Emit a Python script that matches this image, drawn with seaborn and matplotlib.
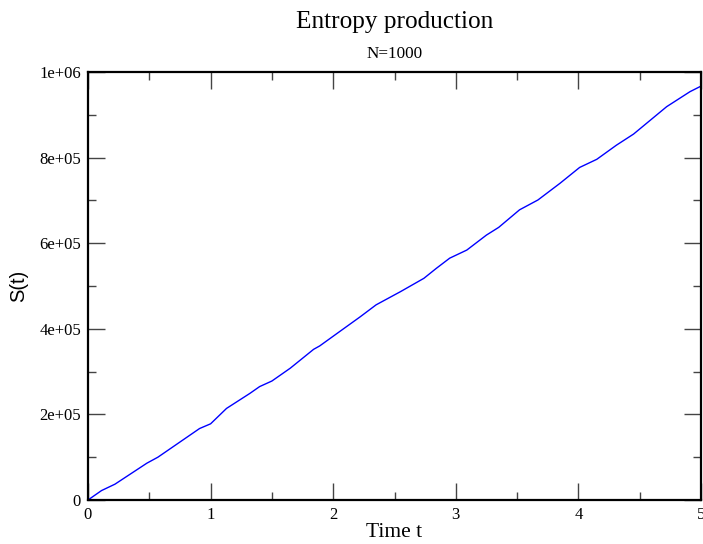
import matplotlib
matplotlib.use("Agg")
import matplotlib.pyplot as plt
import seaborn as sns
import pandas as pd
from matplotlib.ticker import FixedLocator, MultipleLocator, FixedFormatter

# Entropy S(t) sampled along time t
time_t = [0.0, 0.11, 0.22, 0.48, 0.57, 0.91, 1.00, 1.13, 1.32, 1.40, 1.50, 1.65,
          1.84, 1.89, 2.05, 2.22, 2.35, 2.55, 2.74, 2.84, 2.95, 3.09, 3.25, 3.35,
          3.52, 3.67, 3.85, 4.01, 4.15, 4.31, 4.45, 4.72, 4.91, 5.00]
entropy = [0, 22e3, 37e3, 86e3, 100e3, 167e3, 178e3, 214e3, 249e3, 265e3, 278e3, 308e3,
           352e3, 360e3, 393e3, 428e3, 456e3, 487e3, 518e3, 541e3, 565e3, 584e3, 619e3, 637e3,
           678e3, 701e3, 740e3, 777e3, 796e3, 829e3, 855e3, 919e3, 954e3, 967e3]

x_ticks = [0, 1, 2, 3, 4, 5]
x_labels = ["0", "1", "2", "3", "4", "5"]
y_ticks = [0, 2e5, 4e5, 6e5, 8e5, 1e6]
y_labels = ["0", "2e+05", "4e+05", "6e+05", "8e+05", "1e+06"]

sns.set_style("white")
plt.rcParams["font.family"] = ["Liberation Serif", "DejaVu Serif"]
plt.rcParams["text.color"] = "black"
plt.rcParams["axes.labelcolor"] = "black"
plt.rcParams["xtick.color"] = "black"
plt.rcParams["ytick.color"] = "black"

df = pd.DataFrame({"t": time_t, "S": entropy})

fig = plt.figure(figsize=(7.03, 5.44), dpi=100)
ax = fig.add_axes([88 / 703, 44 / 544, 613 / 703, 428 / 544])

sns.lineplot(data=df, x="t", y="S", ax=ax, color="#0000ff", linewidth=1.0)

ax.set_xlim(0, 5)
ax.set_ylim(0, 1e6)

ax.xaxis.set_major_locator(FixedLocator(x_ticks))
ax.xaxis.set_major_formatter(FixedFormatter(x_labels))
ax.xaxis.set_minor_locator(MultipleLocator(0.5))
ax.yaxis.set_major_locator(FixedLocator(y_ticks))
ax.yaxis.set_major_formatter(FixedFormatter(y_labels))
ax.yaxis.set_minor_locator(MultipleLocator(1e5))

ax.tick_params(which="both", direction="in", top=True, right=True,
               bottom=True, left=True, color="#444444", width=1.0)
ax.tick_params(which="major", length=12, labelsize=12, pad=5, labelcolor="black")
ax.tick_params(which="minor", length=6)

for sp in ax.spines.values():
    sp.set_color("black")
    sp.set_linewidth(1.6)

ax.set_xlabel("Time t", fontsize=15.5, labelpad=0, color="black")
ax.set_ylabel("S(t)", fontsize=14.5, family=["Liberation Sans", "DejaVu Sans"],
              labelpad=8, color="black")

cx = (88 + 701) / 2 / 703
fig.text(cx, 1 - 28 / 544, "Entropy production", ha="center", va="baseline",
         fontsize=18.2, color="black")
fig.text(cx, 1 - 58.5 / 544, "N=1000", ha="center", va="baseline",
         fontsize=12.3, color="black")

fig.savefig("out.png", dpi=100)
